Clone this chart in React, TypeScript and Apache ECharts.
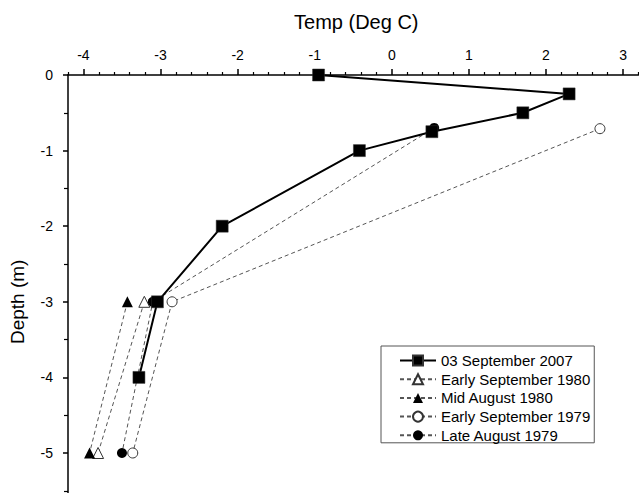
import React, { useEffect, useRef } from "react";
import * as echarts from "echarts";

// Temperature (deg C) vs depth (m)
const sep2007Temp = [-0.95, 2.3, 1.7, 0.52, -0.42, -2.2, -3.04, -3.28];
const sep2007Depth = [0, -0.25, -0.5, -0.75, -1.0, -2.0, -3.0, -4.0];

const earlySep1980Temp = [-3.21, -3.81];
const earlySep1980Depth = [-3.0, -5.0];

const midAug1980Temp = [-3.43, -3.92];
const midAug1980Depth = [-3.0, -5.0];

const earlySep1979Temp = [2.7, -2.85, -3.36];
const earlySep1979Depth = [-0.71, -3.0, -5.0];

const lateAug1979Temp = [0.55, -3.1, -3.5];
const lateAug1979Depth = [-0.7, -3.0, -5.0];

const xMajorTicks = [-4, -3, -2, -1, 0, 1, 2, 3];
const xMinorTicks = [
  -4.2, -3.8, -3.6, -3.4, -3.2, -2.8, -2.6, -2.4, -2.2, -1.8, -1.6, -1.4, -1.2,
  -0.8, -0.6, -0.4, -0.2, 0.2, 0.4, 0.6, 0.8, 1.2, 1.4, 1.6, 1.8, 2.2, 2.4, 2.6,
  2.8, 3.2,
];
const yLabels = [0, -1, -2, -3, -4, -5];

const zip = (xs: number[], ys: number[]) => xs.map((x, i) => [x, ys[i]]);

const FONT = "Liberation Sans, Arial, sans-serif";

export default function App() {
  const ref = useRef<HTMLDivElement>(null);
  useEffect(() => {
    if (!ref.current) return;
    const chart = echarts.init(ref.current, null, { renderer: "svg" });
    const dashed = { color: "#555", width: 1, type: [4, 3] as any };
    chart.setOption({
      animation: false,
      backgroundColor: "#fff",
      textStyle: { fontFamily: FONT },
      grid: { left: 68, top: 75, width: 570.5, height: 453.6, outerBoundsMode: "none", containLabel: false },
      xAxis: [
        {
          type: "value",
          position: "top",
          min: -4.2,
          max: 3.2,
          name: "Temp (Deg C)",
          nameLocation: "middle",
          nameGap: 43,
          nameTextStyle: { fontSize: 20, color: "#000", fontFamily: FONT, padding: [0, 0, 0, 6] },
          axisLine: { show: true, onZero: false, lineStyle: { color: "#000", width: 1.5 } },
          axisTick: { show: true, customValues: xMajorTicks, length: 6, lineStyle: { color: "#000", width: 1.5 } },
          axisLabel: { customValues: xMajorTicks, margin: 13, fontSize: 14, color: "#000", fontFamily: FONT },
          splitLine: { show: false },
        },
        {
          type: "value",
          position: "top",
          min: -4.2,
          max: 3.2,
          axisLine: { show: false, onZero: false },
          axisTick: { show: true, customValues: xMinorTicks, length: 3, lineStyle: { color: "#000", width: 1.2 } },
          axisLabel: { show: false },
          splitLine: { show: false },
        },
      ],
      yAxis: {
        type: "value",
        min: -6,
        max: 0,
        interval: 1,
        name: "Depth (m)",
        nameLocation: "middle",
        nameGap: 41,
        nameRotate: 90,
        nameTextStyle: { fontSize: 19, color: "#000", fontFamily: FONT },
        axisLine: { show: true, onZero: false, lineStyle: { color: "#000", width: 1.5 } },
        axisTick: { show: true, length: 5, lineStyle: { color: "#000", width: 1.5 } },
        minorTick: { show: true, splitNumber: 2, length: 4, lineStyle: { color: "#000", width: 1.2 } },
        axisLabel: { customValues: yLabels, margin: 15, fontSize: 14, color: "#000", fontFamily: FONT },
        splitLine: { show: false },
        minorSplitLine: { show: false },
      },
      legend: {
        orient: "vertical",
        left: 381,
        top: 346,
        padding: [7, 4, 0, 18],
        itemWidth: 36,
        itemHeight: 12.5,
        itemGap: 3.7,
        borderColor: "#555",
        borderWidth: 1,
        backgroundColor: "#fff",
        textStyle: { fontSize: 15, color: "#000", fontFamily: FONT },
        data: [
          "03 September 2007",
          "Early September 1980",
          "Mid August 1980",
          "Early September 1979",
          "Late August 1979",
        ],
      },
      series: [
        {
          name: "03 September 2007",
          type: "line",
          z: 5,
          data: zip(sep2007Temp, sep2007Depth),
          symbol: "rect",
          symbolSize: 12,
          lineStyle: { color: "#000", width: 2 },
          itemStyle: { color: "#000", borderColor: "#333", borderWidth: 0.5 },
        },
        {
          name: "Early September 1980",
          type: "line",
          z: 2,
          data: zip(earlySep1980Temp, earlySep1980Depth),
          symbol: "triangle",
          symbolSize: 11,
          lineStyle: dashed,
          itemStyle: { color: "#fff", borderColor: "#333", borderWidth: 1 },
        },
        {
          name: "Mid August 1980",
          type: "line",
          z: 2,
          data: zip(midAug1980Temp, midAug1980Depth),
          symbol: "triangle",
          symbolSize: 11,
          lineStyle: dashed,
          itemStyle: { color: "#000", borderColor: "#000", borderWidth: 0 },
        },
        {
          name: "Early September 1979",
          type: "line",
          z: 2,
          data: zip(earlySep1979Temp, earlySep1979Depth),
          symbol: "circle",
          symbolSize: 10,
          lineStyle: dashed,
          itemStyle: { color: "#fff", borderColor: "#333", borderWidth: 1 },
        },
        {
          name: "Late August 1979",
          type: "line",
          z: 2,
          data: zip(lateAug1979Temp, lateAug1979Depth),
          symbol: "circle",
          symbolSize: 10,
          lineStyle: dashed,
          itemStyle: { color: "#000", borderColor: "#000", borderWidth: 0 },
        },
      ],
    });
    return () => chart.dispose();
  }, []);
  return (
    <div
      ref={ref}
      style={{ position: "fixed", left: 0, top: 0, width: 639, height: 493, background: "#fff" }}
    />
  );
}
